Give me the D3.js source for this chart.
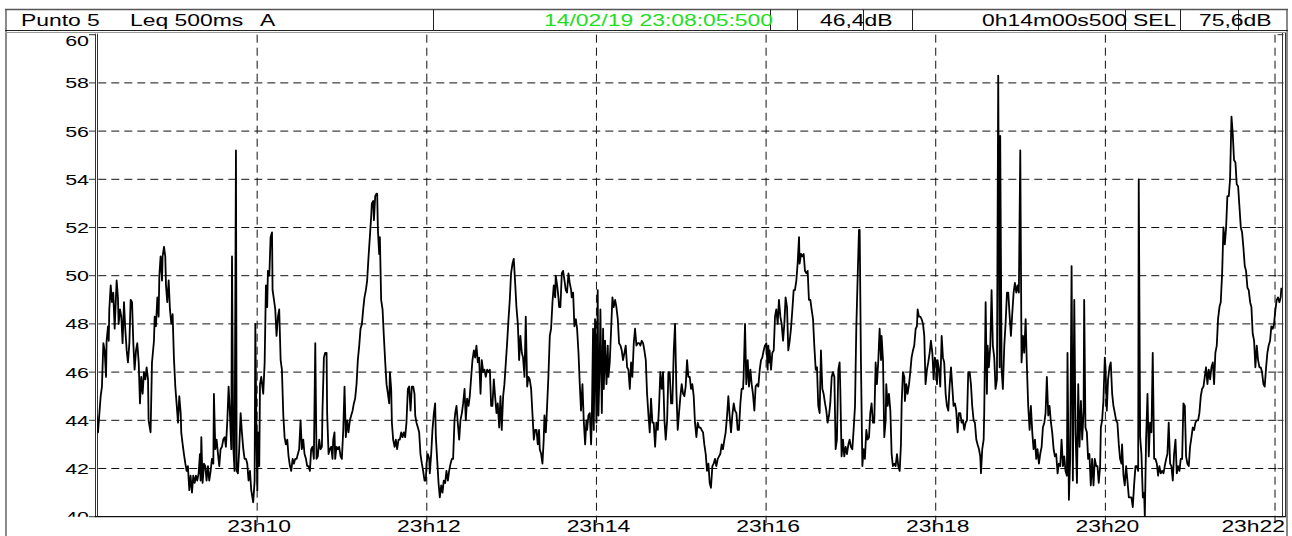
<!DOCTYPE html>
<html><head><meta charset="utf-8">
<script src="https://cdn.jsdelivr.net/npm/d3@7"></script>
<style>html,body{margin:0;padding:0;background:#fff;overflow:hidden}svg{display:block}</style>
</head><body><svg id="c" width="1292" height="536"></svg>
<script>
// ---- header texts ----
const headerLeft = [["Punto 5", 21], ["Leq 500ms", 130], ["A", 260]];
const startStamp = "14/02/19 23:08:05:500";
const cursorLevel = "46,4dB";
const durationText = "0h14m00s500";
const selLabel = "SEL";
const selValue = "75,6dB";
// ---- axes ----
const yTicks = [40, 42, 44, 46, 48, 50, 52, 54, 56, 58, 60];
const yDomain = [40, 60];
const startTime = new Date(2019, 1, 14, 23, 8, 5, 500);
const durationSec = 840.5;
// ---- Leq 500ms A readings: [seconds since start, dB] ----
const seg1 = [[1.0,44.2],[1.9,43.5],[2.9,44.3],[3.8,45.0],[4.7,45.4],[5.7,47.2],[6.6,46.9],[7.6,45.8],[8.0,47.3],[9.0,47.9],[9.5,47.3],[9.9,48.6],[10.9,49.6],[11.8,48.9],[12.7,49.3],[13.7,47.8],[14.6,49.1],[15.1,49.8],[16.0,49.1],[16.5,48.0],[17.5,48.6],[18.4,48.3],[19.3,47.2],[20.3,48.9],[21.2,47.8],[22.2,46.9],[23.1,46.4],[24.1,47.2],[25.0,49.0],[26.0,48.9],[26.9,47.2],[27.8,46.1],[28.8,46.9],[29.7,47.2],[30.7,46.4],[31.6,44.7],[32.5,45.8],[33.5,45.1],[34.4,46.0],[35.4,45.7],[36.3,46.2],[37.3,45.7],[37.7,44.0],[39.1,43.5],[40.1,46.4],[41.5,47.3],[42.0,48.3],[42.9,47.9],[43.9,49.1],[44.8,48.3],[45.3,50.0],[46.2,50.8],[47.2,49.8],[47.6,50.8],[48.6,51.2],[49.5,50.8],[50.0,49.6],[50.9,48.9],[51.9,49.8],[52.8,48.6],[53.8,48.0],[54.7,48.4],[55.6,46.6],[56.6,45.4],[57.5,44.7],[58.5,43.9],[59.4,45.0],[60.4,44.3],[60.8,43.5],[61.8,43.0],[62.7,42.6],[63.7,42.2],[64.6,41.9],[65.5,42.1],[66.5,41.1],[67.4,41.7],[68.4,41.0],[69.3,41.7],[70.3,41.4],[71.2,41.7],[72.1,41.5],[73.1,41.8],[74.0,42.6],[74.5,41.5],[75.0,43.3],[75.9,41.4],[76.9,42.2],[77.8,42.1],[78.7,41.5],[79.7,42.1],[80.6,41.5],[81.6,41.9],[82.5,42.4],[83.5,42.2],[83.9,45.1],[84.9,42.8],[85.8,43.2],[86.8,42.6],[87.7,42.1],[88.6,42.8],[89.6,42.9],[90.5,43.2],[91.5,43.3],[92.4,42.9],[93.4,44.0],[94.3,45.4],[95.2,44.3],[96.2,42.8],[96.7,50.8],[97.6,42.9],[98.5,41.9],[99.5,55.2],[100.0,41.9],[100.9,41.8],[101.8,42.8],[102.8,44.3],[103.7,43.5],[104.7,42.8],[105.6,42.4],[106.6,42.4],[107.5,42.2],[108.4,41.5],[109.4,41.9],[110.3,41.1],[111.7,40.6],[112.7,41.5],[113.2,48.0],[114.1,42.9],[114.6,41.1],[115.0,43.5],[116.0,42.1],[116.5,45.5],[117.4,45.8],[118.8,45.1],[119.8,46.4],[120.7,49.6],[121.6,48.7],[122.1,50.2],[123.1,50.0],[124.0,51.6],[125.0,51.8],[125.4,49.4],[126.4,49.0],[127.3,48.6],[128.2,47.5],[129.2,48.3],[130.1,48.6],[131.1,46.5],[132.0,46.1],[133.0,44.2],[133.9,43.3],[134.8,43.0],[135.8,43.2],[136.7,42.5],[137.7,42.1],[138.6,41.9],[139.6,42.4]];
const seg2 = [[140.5,42.2],[141.4,42.4],[142.4,42.4],[143.3,42.6],[144.2,42.8],[145.2,44.0],[146.1,42.8],[147.1,43.2],[148.0,42.6],[149.0,42.4],[149.9,42.1],[150.8,42.1],[151.8,41.9],[152.7,42.8],[153.7,42.9],[154.6,42.4],[155.6,47.2],[156.5,42.4],[157.4,42.5],[158.4,43.2],[159.3,42.8],[160.3,42.9],[160.7,44.4],[161.7,46.6],[162.6,46.8],[163.6,46.8],[164.0,44.3],[165.0,42.6],[165.9,42.8],[166.9,42.9],[167.8,42.4],[168.3,43.2],[169.2,43.5],[169.7,42.4],[170.6,42.9],[171.6,42.8],[172.5,42.9],[173.5,42.5],[174.4,42.4],[175.4,43.6],[176.3,45.4],[177.2,43.3],[178.2,44.0],[179.1,43.5],[180.1,44.0],[181.0,44.2],[182.0,44.4],[182.9,44.7],[183.8,44.9],[184.8,45.5],[185.7,46.5],[186.7,47.1],[187.6,47.8],[188.6,48.0],[189.5,48.6],[190.4,49.1],[191.4,49.4],[192.3,49.8],[193.3,50.8],[194.2,51.6],[195.2,52.5],[195.6,53.0],[196.6,53.1],[197.1,52.3],[198.0,53.3],[198.9,53.4],[199.4,53.4],[199.9,51.9],[200.8,50.9],[201.3,51.6],[202.2,49.0],[203.2,48.6],[204.1,47.5],[205.1,46.4],[206.0,45.5],[207.0,45.1],[207.9,44.7],[208.4,46.0],[209.3,45.3],[209.8,43.9],[210.7,43.2],[211.7,42.9],[212.6,43.2],[213.5,42.8],[214.5,43.2],[215.4,43.2],[216.4,43.5],[217.3,43.3],[218.3,43.5],[219.2,43.3],[220.1,43.9],[221.1,45.3],[222.0,45.4],[223.0,44.4],[223.9,45.4],[224.9,45.4],[225.8,45.1],[226.3,44.2],[227.2,43.9],[228.2,43.7],[229.1,43.5],[230.0,42.6],[231.0,42.2],[231.9,41.9],[232.9,41.5],[233.8,41.5],[234.3,42.2],[235.2,42.6],[236.2,42.4],[236.6,41.8],[237.6,42.6],[238.5,43.6],[239.5,44.3],[240.4,44.7],[240.9,43.3],[241.8,42.4],[242.8,41.4],[243.7,40.8],[244.7,41.3],[245.6,41.0],[246.5,41.5],[247.5,41.4],[248.4,41.9],[249.4,41.5],[250.3,41.9],[251.3,42.2],[252.2,42.4],[253.1,42.4],[254.1,44.0],[254.6,44.3],[255.5,44.6],[256.4,43.9],[257.4,43.2],[258.3,44.0],[259.3,44.3],[260.2,44.7],[261.2,45.3],[262.1,44.0],[263.0,44.9],[264.0,44.6],[264.9,45.0],[265.9,45.8],[266.8,46.5],[267.8,46.9],[268.7,46.6],[269.6,47.1],[270.6,46.4],[271.5,46.6],[272.5,45.1],[273.4,46.5],[274.4,46.0],[275.3,46.1],[276.2,45.8],[277.2,46.1],[278.1,46.0]];
const seg3 = [[279.1,46.1],[280.0,44.6],[280.9,44.6],[281.9,45.7],[282.8,45.0],[283.8,44.3],[284.7,44.7],[285.7,43.7],[286.6,45.0],[287.5,43.6],[288.5,45.0],[289.4,45.5],[290.4,46.4],[291.3,47.2],[292.3,48.2],[293.2,49.0],[294.1,50.1],[295.1,50.5],[296.0,50.7],[297.0,49.7],[297.9,48.7],[298.9,48.0],[299.8,46.5],[300.7,47.5],[301.7,46.8],[302.6,46.6],[303.6,45.8],[304.5,48.3],[305.5,45.4],[306.4,45.8],[307.3,45.7],[308.3,45.3],[309.2,44.3],[310.2,43.2],[311.1,43.6],[312.1,43.6],[313.0,43.0],[313.9,43.6],[314.4,42.8],[315.4,42.6],[316.3,42.2],[317.2,43.2],[317.7,44.2],[318.7,43.5],[319.6,44.6],[320.5,45.8],[321.5,47.5],[322.4,47.8],[323.4,48.9],[324.3,49.6],[325.3,49.1],[325.7,50.0],[326.7,49.6],[327.6,49.1],[328.1,48.7],[329.0,48.7],[330.0,50.1],[330.9,50.2],[331.9,49.8],[332.8,49.4],[333.7,49.3],[334.7,50.1],[335.6,49.7],[336.6,49.4],[337.0,49.1],[338.0,49.3],[338.9,47.9],[339.9,48.2],[340.8,47.8],[341.8,46.8],[342.7,45.5],[343.6,44.4],[344.6,45.5],[345.5,44.0],[346.5,43.0],[347.4,44.0],[347.9,43.6],[348.8,44.2],[349.8,44.3],[350.7,43.0],[351.2,43.9],[352.1,47.8],[352.6,43.6],[353.5,48.2],[354.5,43.9],[355.4,49.4],[355.9,44.2],[356.8,46.4],[357.3,48.6],[358.3,44.3],[359.2,47.8],[359.7,45.3],[360.6,47.3],[361.6,45.5],[362.5,47.1],[363.0,45.8],[363.9,46.4],[364.9,47.8],[365.8,49.1],[366.7,48.7],[367.7,49.0],[368.6,48.7],[369.6,48.2],[370.5,47.2],[371.5,47.1],[372.4,46.9],[373.3,46.5],[374.3,46.8],[375.2,47.1],[376.2,46.2],[377.1,46.1],[378.1,45.3],[379.0,46.4],[379.9,45.8],[380.9,47.2],[381.8,47.8],[382.8,47.1],[383.7,47.2],[384.7,47.2],[385.6,47.1],[386.5,47.3],[387.5,47.2],[388.4,46.9],[389.4,46.5],[390.3,45.1],[391.3,44.2],[392.2,43.5],[393.1,44.9],[394.1,43.9],[395.0,43.9],[396.0,42.9],[396.9,43.9],[397.9,43.6],[398.8,44.6],[399.7,46.0],[400.7,45.3],[401.6,46.0],[402.6,44.0],[403.5,43.2],[404.5,44.0],[405.4,46.0],[406.3,46.0],[407.3,44.7],[408.2,44.7],[409.2,46.9],[410.1,48.0],[411.1,45.1],[412.0,43.6],[412.9,44.3],[413.9,45.0],[414.8,45.5],[415.8,45.1],[416.7,45.0]];
const seg4 = [[417.6,45.4],[418.6,46.5],[419.5,45.8],[420.5,45.8],[421.4,45.3],[422.3,45.5],[423.3,45.0],[424.2,43.9],[425.2,43.3],[426.1,43.9],[427.1,43.7],[428.0,43.7],[428.9,43.6],[429.9,43.5],[430.8,43.0],[431.8,42.6],[432.7,41.9],[433.7,42.2],[434.6,41.4],[435.5,41.2],[436.5,42.1],[437.4,42.2],[438.4,42.4],[439.3,42.1],[440.3,42.4],[441.2,42.5],[442.1,42.6],[443.1,43.0],[444.0,42.8],[445.0,43.2],[445.9,43.5],[446.9,44.2],[447.8,45.0],[448.7,44.2],[449.7,43.5],[450.6,44.2],[451.6,44.7],[452.5,44.4],[453.5,44.3],[454.4,43.6],[455.3,43.6],[456.3,44.7],[457.2,45.3],[458.2,45.3],[458.6,45.8],[459.6,48.0],[460.5,45.5],[461.5,46.5],[462.4,45.4],[463.4,46.1],[464.3,45.5],[465.2,45.1],[466.2,44.4],[467.1,45.4],[468.1,45.5],[469.0,45.4],[470.0,46.1],[470.9,46.5],[471.8,46.6],[472.8,46.9],[473.7,47.1],[474.7,47.2],[475.6,46.1],[476.1,47.1],[476.6,46.4],[477.0,46.9],[478.0,46.1],[478.9,46.8],[479.9,46.9],[480.8,48.3],[481.7,48.6],[482.7,48.0],[483.6,49.0],[484.6,48.3],[485.5,48.0],[486.5,47.3],[487.4,48.0],[488.3,49.1],[489.3,48.7],[490.2,46.9],[491.2,47.3],[492.1,47.8],[493.1,48.6],[494.0,49.4],[494.9,49.4],[495.9,49.8],[496.8,50.5],[497.8,51.6],[498.2,50.5],[499.2,50.9],[500.1,50.8],[501.1,50.9],[502.0,50.2],[503.0,50.1],[503.9,50.2],[504.8,49.0],[505.8,49.0],[506.7,48.6],[507.7,48.2],[508.6,47.1],[509.6,46.1],[510.5,46.2],[511.4,44.6],[512.4,44.3],[513.3,46.9],[514.3,45.3],[515.2,45.1],[516.2,44.7],[517.1,44.4],[518.0,43.9],[519.0,44.2],[519.9,44.7],[520.9,45.8],[521.8,46.0],[522.8,45.8],[523.7,42.8],[524.6,43.2],[525.6,46.1],[526.5,46.4],[527.0,45.3],[527.9,42.5],[528.9,43.2],[529.8,42.5],[530.8,42.9],[531.7,42.6],[532.7,43.0],[533.6,43.2],[534.5,42.9],[535.5,42.8],[536.4,43.6],[537.4,44.6],[538.3,47.8],[539.3,50.0],[540.2,51.9],[540.7,51.9],[541.6,46.4],[542.6,42.1],[543.5,42.8],[544.4,42.4],[545.4,43.6],[546.3,43.2],[547.3,43.3],[548.2,44.3],[549.1,44.7],[550.1,43.9],[551.0,43.9],[552.0,46.4],[552.9,45.5],[553.9,46.5],[554.8,47.8],[555.8,46.5]];
const seg5 = [[556.2,47.5],[557.2,46.5],[558.1,43.3],[559.1,44.0],[559.5,45.5],[560.5,44.6],[561.4,45.1],[562.4,44.4],[563.3,42.6],[564.2,42.1],[565.2,42.2],[566.1,42.1],[567.1,42.6],[568.0,42.1],[569.0,41.9],[569.9,43.0],[570.4,44.7],[571.3,46.0],[572.3,45.8],[572.7,44.8],[573.7,45.5],[574.6,45.1],[575.6,45.5],[576.5,46.0],[577.4,46.6],[578.4,46.9],[579.3,47.1],[580.3,47.8],[581.2,47.9],[581.7,48.6],[582.6,48.3],[583.6,48.3],[584.5,48.2],[585.5,48.0],[586.4,47.5],[587.3,45.5],[588.3,46.1],[589.2,46.4],[590.2,46.8],[591.1,47.3],[592.1,46.8],[593.0,45.7],[593.9,46.6],[594.9,46.4],[595.4,45.5],[595.8,46.5],[596.8,46.1],[597.7,45.4],[598.7,47.5],[599.6,46.6],[600.5,46.4],[601.5,45.1],[602.4,44.6],[603.4,44.4],[604.3,45.4],[605.3,46.2],[606.2,45.4],[607.1,44.6],[608.1,44.7],[609.0,44.4],[610.0,43.5],[610.9,44.3],[611.9,44.3],[612.8,43.9],[613.7,44.0],[614.7,43.6],[615.6,43.9],[616.6,44.0],[617.5,46.0],[618.5,46.0],[619.4,45.5],[620.3,44.6],[621.3,44.0],[622.2,43.9],[623.2,43.2],[624.1,43.0],[625.1,42.8],[626.0,42.5],[626.5,41.8],[627.4,42.8],[628.4,43.2],[628.8,44.3],[629.8,48.9],[630.7,45.1],[631.2,47.1],[632.1,46.2],[633.1,47.1],[634.0,49.4],[634.9,47.1],[635.9,46.6],[636.8,45.3],[637.8,45.7],[638.7,58.3],[639.7,46.2],[640.1,55.8],[641.1,46.1],[642.0,45.3],[643.0,47.1],[643.9,48.0],[644.9,49.3],[645.8,49.3],[646.7,48.4],[647.7,47.5],[648.6,48.4],[649.6,49.3],[650.5,49.7],[651.5,49.3],[652.4,49.6],[653.3,49.3],[654.3,55.2],[655.2,46.4],[656.2,47.5],[657.1,46.8],[658.1,48.2],[659.0,46.2],[659.9,44.6],[660.9,43.6],[661.8,44.6],[662.8,43.5],[663.7,42.8],[664.7,43.2],[665.6,42.4],[666.5,42.8],[667.5,42.2],[668.4,42.6],[669.4,42.9],[670.3,43.7],[671.3,43.9],[672.2,44.3],[673.1,45.8],[674.1,44.2],[675.0,44.6],[676.0,43.9],[676.9,43.5],[677.9,42.8],[678.8,42.5],[679.7,42.6],[680.7,41.8],[681.6,42.2],[682.6,42.1],[683.5,43.2],[684.5,42.1],[685.4,42.5],[686.3,41.9],[687.3,41.7],[687.7,46.8],[688.7,40.7],[689.6,42.4],[690.6,50.4],[691.5,41.5],[692.5,49.0],[693.4,43.5],[694.4,41.4],[695.3,45.5],[696.2,42.9],[697.2,44.8],[698.1,43.2],[699.1,44.4],[699.5,49.0]];
const seg6 = [[700.4,43.7],[701.4,43.5],[702.3,42.4],[703.2,42.6],[704.2,41.3],[705.1,42.4],[706.1,41.3],[707.0,42.4],[708.0,42.1],[708.9,42.1],[709.8,41.4],[710.8,42.1],[711.3,43.7],[712.2,44.0],[713.1,44.8],[714.1,46.6],[714.6,46.2],[715.5,44.4],[716.4,45.7],[717.4,46.2],[718.3,46.4],[719.3,45.1],[720.2,44.6],[721.2,44.3],[722.1,44.0],[723.0,43.9],[724.0,43.0],[724.9,42.4],[725.9,42.2],[726.3,43.0],[727.3,41.7],[728.2,41.3],[729.2,42.1],[730.1,41.5],[731.1,40.8],[732.0,40.8],[732.9,40.8],[733.9,40.4],[734.8,41.3],[735.8,42.1],[736.7,42.1],[737.7,41.9],[738.1,54.0],[739.1,43.3],[740.0,42.6],[741.0,40.8],[741.9,41.0],[742.4,40.0],[743.3,43.2],[744.3,45.1],[745.2,42.5],[746.1,43.9],[747.1,43.5],[748.0,46.8],[749.0,42.4],[749.9,42.4],[750.9,42.2],[751.8,41.7],[752.7,42.1],[753.7,41.8],[754.6,41.9],[755.6,41.8],[756.5,42.1],[757.5,42.4],[758.4,42.6],[759.3,43.9],[760.3,42.2],[761.2,42.1],[762.2,41.5],[763.1,42.6],[764.1,43.2],[765.0,41.8],[765.9,42.1],[766.9,41.9],[767.8,42.4],[768.8,42.4],[769.7,44.7],[770.7,44.6],[771.6,42.5],[772.5,42.2],[773.5,42.1],[774.4,42.9],[775.4,43.3],[776.3,43.7],[777.3,43.6],[778.2,43.9],[779.1,44.0],[780.1,44.0],[781.0,44.3],[782.0,45.0],[782.9,45.3],[783.9,45.4],[784.8,45.8],[785.7,46.2],[786.7,45.5],[787.6,46.1],[788.6,45.7],[789.5,46.2],[790.5,46.4],[791.4,45.5],[792.3,46.8],[793.3,47.1],[794.2,48.2],[795.2,48.7],[796.1,48.9],[797.1,50.1],[798.0,52.0],[799.0,51.3],[799.9,52.0],[800.8,53.3],[801.8,53.3],[802.7,54.0],[803.7,56.6],[804.6,55.9],[805.5,54.8],[806.5,54.7],[807.4,53.8],[808.4,53.7],[809.3,52.9],[810.3,52.0],[811.2,51.8],[812.1,51.2],[813.1,50.4],[814.0,50.2],[815.0,49.5],[815.9,49.4],[816.9,48.9],[817.8,48.7],[818.7,47.6],[819.7,47.3],[820.6,46.2],[821.6,47.1],[822.5,46.5],[823.5,46.2],[824.4,46.2],[825.3,46.0],[826.3,45.5],[827.2,45.4],[828.2,46.2],[829.1,46.8],[830.0,47.1],[831.0,47.3],[831.9,47.9],[832.9,47.8],[833.8,48.0],[834.8,48.6],[835.7,49.0],[836.6,49.1],[837.6,48.9],[838.5,49.1],[839.0,49.5]];

const samples = [].concat(seg1, seg2, seg3, seg4, seg5, seg6);

// ---- layout ----
const SX = 1.43; // horizontal stretch of the original lettering
const FONT = "'Liberation Sans', Arial, Helvetica, sans-serif";
const svg = d3.select("#c");
const L = 95.3, R = 1283.5, T = 34.7, B = 516.7;

const x = d3.scaleTime().domain([startTime, new Date(+startTime + durationSec * 1000)]).range([L, R]);
const y = d3.scaleLinear().domain(yDomain).range([B, T]);

function stext(parent, px, py, str, size, anchor, color) {
  return parent.append("text")
    .attr("transform", `translate(${px},${py}) scale(${SX},1)`)
    .attr("text-anchor", anchor || "start")
    .attr("font-family", FONT).attr("font-size", size)
    .attr("fill", color || "#000").text(str);
}

// outer frame
svg.append("line").attr("x1", 6).attr("x2", 6).attr("y1", 9).attr("y2", 536).attr("stroke", "#8a8a8a").attr("stroke-width", 2);
svg.append("line").attr("x1", 1287).attr("x2", 1287).attr("y1", 9).attr("y2", 536).attr("stroke", "#8a8a8a").attr("stroke-width", 2);

// header bar
const hdr = svg.append("g");
hdr.append("line").attr("x1", 5).attr("x2", 1288).attr("y1", 9.5).attr("y2", 9.5).attr("stroke", "#555").attr("stroke-width", 1.5);
hdr.append("line").attr("x1", 5).attr("x2", 1288).attr("y1", 30.5).attr("y2", 30.5).attr("stroke", "#222").attr("stroke-width", 1);
hdr.append("line").attr("x1", 5).attr("x2", 1288).attr("y1", 32.5).attr("y2", 32.5).attr("stroke", "#999").attr("stroke-width", 1);
[433.5, 770.5, 797.5, 863.5, 912.5, 1125.5, 1180.5, 1238.5].forEach(px => {
  hdr.append("line").attr("x1", px).attr("x2", px).attr("y1", 9.5).attr("y2", 30.5).attr("stroke", "#222").attr("stroke-width", 1);
});
headerLeft.forEach(([s, px]) => stext(hdr, px, 26, s, 16));
stext(hdr, 773, 26, startStamp, 16, "end", "#22dd22");
stext(hdr, 820, 26, cursorLevel, 16);
stext(hdr, 982, 26, durationText, 16);
stext(hdr, 1133, 26, selLabel, 16);
stext(hdr, 1199, 26, selValue, 16);

// grid
const grid = svg.append("g").attr("stroke", "#111").attr("stroke-width", 1).attr("stroke-dasharray", "8,5");
yTicks.filter(v => v > 40 && v < 60).forEach(v => {
  grid.append("line").attr("x1", L + 3).attr("x2", R - 2).attr("y1", y(v)).attr("y2", y(v));
});
const xTicks = x.ticks(d3.timeMinute.every(2));
xTicks.forEach(t => {
  grid.append("line").attr("x1", x(t)).attr("x2", x(t)).attr("y1", T).attr("y2", B + 6);
});

// y tick marks and labels
const yl = svg.append("g");
yTicks.forEach(v => {
  yl.append("line").attr("x1", 89).attr("x2", 96).attr("y1", y(v)).attr("y2", y(v)).attr("stroke", "#333").attr("stroke-width", 1);
  yl.append("line").attr("x1", R - 6).attr("x2", R).attr("y1", y(v)).attr("y2", y(v)).attr("stroke", "#333").attr("stroke-width", 1);
});
svg.append("clipPath").attr("id", "ylab").append("rect").attr("x", 0).attr("y", T - 1).attr("width", 95).attr("height", B - T + 1);
const ylg = svg.append("g").attr("clip-path", "url(#ylab)");
yTicks.forEach(v => {
  let by = y(v) + 5.5;
  if (v === 60) by = y(v) + 11.5;
  stext(ylg, 89, by, String(v), 15, "end");
});

// x labels
const fmt = d3.timeFormat("%Hh%M");
xTicks.forEach((t, i) => {
  const last = i === xTicks.length - 1;
  stext(svg, last ? 1285 : x(t) + 2, 532, fmt(t), 16, last ? "end" : "middle");
});

// axes frame
svg.append("line").attr("x1", 95.5).attr("x2", 95.5).attr("y1", T - 1).attr("y2", B).attr("stroke", "#333");
svg.append("line").attr("x1", 97.5).attr("x2", 97.5).attr("y1", T - 1).attr("y2", B).attr("stroke", "#333");
svg.append("line").attr("x1", 1282.5).attr("x2", 1282.5).attr("y1", 33).attr("y2", B).attr("stroke", "#333");
svg.append("line").attr("x1", 1285.5).attr("x2", 1285.5).attr("y1", 33).attr("y2", B).attr("stroke", "#333");
svg.append("line").attr("x1", 95).attr("x2", 1286).attr("y1", B).attr("y2", B).attr("stroke", "#111").attr("stroke-width", 1.3);

// data line
svg.append("clipPath").attr("id", "plot").append("rect").attr("x", 97).attr("y", T).attr("width", 1283 - 97).attr("height", B - T);
const line = d3.line()
  .x(d => x(new Date(+startTime + d[0] * 1000)))
  .y(d => y(d[1]));
svg.append("path").datum(samples).attr("clip-path", "url(#plot)")
  .attr("d", line).attr("fill", "none").attr("stroke", "#000")
  .attr("stroke-width", 1.8).attr("stroke-linejoin", "round");
</script></body></html>
